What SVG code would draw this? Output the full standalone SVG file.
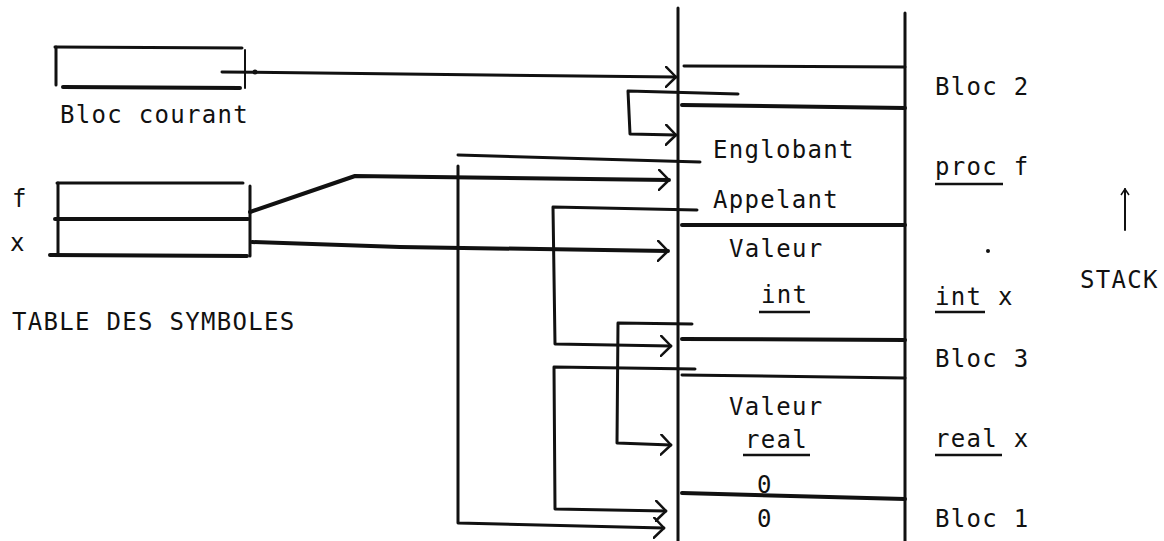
<svg xmlns="http://www.w3.org/2000/svg" width="1164" height="541" viewBox="0 0 1164 541">
<style>
  text { font-family: "DejaVu Sans Mono", "Liberation Mono", monospace; font-size: 24px; letter-spacing: 1.3px; fill: #111; }
  .ln { stroke: #111; stroke-width: 3; fill: none; stroke-linecap: round; }
  .thin { stroke: #111; stroke-width: 2; fill: none; stroke-linecap: round; }
  .thick { stroke: #111; stroke-width: 4; fill: none; stroke-linecap: round; stroke-linejoin: round; }
  .conn { stroke: #111; stroke-width: 3; fill: none; stroke-linecap: round; stroke-linejoin: round; }
  .ul { stroke: #111; stroke-width: 2.5; }
</style>
<defs>
  <marker id="open" viewBox="0 0 12 22" refX="11" refY="11" markerWidth="12" markerHeight="22" markerUnits="userSpaceOnUse" orient="auto">
    <path d="M1,1 L11,11 L1,21" fill="none" stroke="#111" stroke-width="2.5" stroke-linecap="round" stroke-linejoin="round"/>
  </marker>
  <marker id="small" viewBox="0 0 8 10" refX="7" refY="5" markerWidth="8" markerHeight="10" markerUnits="userSpaceOnUse" orient="auto">
    <path d="M1,1 L7,5 L1,9" fill="none" stroke="#111" stroke-width="1.5"/>
  </marker>
</defs>

<g id="bloc-courant">
  <line class="ln" x1="55" y1="47" x2="242" y2="48"/>
  <line class="ln" x1="56" y1="47" x2="56" y2="85"/>
  <line class="thick" x1="63" y1="87" x2="240" y2="88"/>
  <line class="thin" x1="245" y1="50" x2="245" y2="88"/>
  <circle cx="255" cy="72" r="2.5" fill="#111"/>
  <text x="60" y="123">Bloc courant</text>
</g>

<g id="table-symboles">
  <line class="ln" x1="57" y1="183" x2="243" y2="183"/>
  <line class="ln" x1="58" y1="183" x2="58" y2="254"/>
  <line class="thick" x1="55" y1="219" x2="248" y2="219"/>
  <line class="thick" x1="50" y1="255" x2="247" y2="256"/>
  <line class="ln" x1="250" y1="186" x2="250" y2="256"/>
  <text x="12" y="207">f</text>
  <text x="10" y="251">x</text>
  <text x="12" y="330">TABLE DES SYMBOLES</text>
</g>

<g id="stack">
  <line class="ln" x1="678" y1="8" x2="678" y2="541"/>
  <line class="ln" x1="905" y1="13" x2="905" y2="541"/>
  <line class="ln" x1="684" y1="66" x2="905" y2="67"/>
  <line class="thick" x1="682" y1="105" x2="905" y2="108"/>
  <line class="thick" x1="682" y1="225" x2="905" y2="225"/>
  <line class="thick" x1="682" y1="339" x2="905" y2="340"/>
  <line class="ln" x1="682" y1="375" x2="905" y2="378"/>
  <line class="thick" x1="682" y1="493" x2="905" y2="499"/>
  <text x="713" y="158">Englobant</text>
  <text x="713" y="208">Appelant</text>
  <text x="729" y="257">Valeur</text>
  <text x="761" y="303">int</text>
  <line class="ul" x1="759" y1="312" x2="810" y2="312"/>
  <text x="729" y="415">Valeur</text>
  <text x="745" y="448">real</text>
  <line class="ul" x1="743" y1="455" x2="810" y2="455"/>
  <text x="757" y="493">0</text>
  <text x="757" y="527">0</text>
</g>

<g id="stack-labels">
  <text x="935" y="95">Bloc 2</text>
  <text x="935" y="175">proc f</text>
  <line class="ul" x1="935" y1="184" x2="1003" y2="184"/>
  <text x="935" y="305">int x</text>
  <line class="ul" x1="935" y1="312" x2="985" y2="312"/>
  <text x="935" y="367">Bloc 3</text>
  <text x="935" y="447">real x</text>
  <line class="ul" x1="935" y1="455" x2="1002" y2="455"/>
  <text x="935" y="527">Bloc 1</text>
  <circle cx="988" cy="251" r="2" fill="#111"/>
</g>

<g id="stack-direction">
  <line class="thin" x1="1125" y1="230" x2="1125" y2="189" marker-end="url(#small)"/>
  <text x="1080" y="288">STACK</text>
</g>

<g id="connectors">
  <path class="conn" d="M222,72 L676,77" marker-end="url(#open)"/>
  <path class="conn" d="M738,94 L628,91 L630,134 L676,135" marker-end="url(#open)"/>
  <path class="thick" d="M250,212 L355,176 L669,180" marker-end="url(#open)"/>
  <path class="thick" d="M252,242 L400,247 L668,251" marker-end="url(#open)"/>
  <path class="conn" d="M700,162 L458,155 M458,166 L458,523 L664,528" marker-end="url(#open)"/>
  <path class="conn" d="M697,210 L553,207 L555,344 L671,346" marker-end="url(#open)"/>
  <path class="conn" d="M692,324 L618,323 L617,443 L671,445" marker-end="url(#open)"/>
  <path class="conn" d="M695,369 L554,367 L555,509 L666,511" marker-end="url(#open)"/>
</g>
</svg>
